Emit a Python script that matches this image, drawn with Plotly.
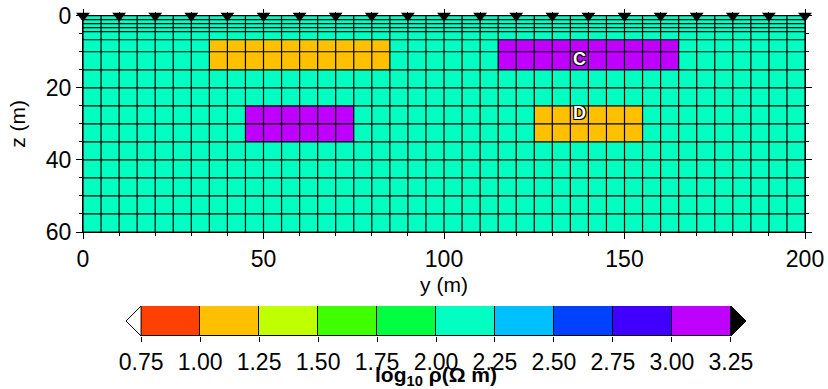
import plotly.graph_objects as go

# ---------------- data ----------------
y_nodes = [0, 5, 10, 15, 20, 25, 30, 35, 40, 45, 50, 55, 60, 65, 70, 75, 80, 85, 90, 95, 100,
           105, 110, 115, 120, 125, 130, 135, 140, 145, 150, 155, 160, 165, 170, 175, 180,
           185, 190, 195, 200]
z_nodes = [0, 1.11, 2.22, 3.33, 4.44, 6.67, 10, 15, 20, 25, 30, 35, 40, 45, 50, 55, 60]

background_log_rho = 2.0
block_y0 = [35, 115, 45, 125]
block_y1 = [85, 165, 75, 155]
block_z0 = [6.67, 6.67, 25, 25]
block_z1 = [15, 15, 35, 35]
block_log_rho = [1.0, 3.0, 3.0, 1.0]

label_text = ["C", "D"]
label_y = [137.5, 137.5]
label_z = [12.5, 27.5]

electrode_y = [0, 10, 20, 30, 40, 50, 60, 70, 80, 90, 100, 110, 120, 130, 140, 150, 160,
               170, 180, 190, 200]
electrode_z = [0] * len(electrode_y)

cbar_edges = [0.75, 1.00, 1.25, 1.50, 1.75, 2.00, 2.25, 2.50, 2.75, 3.00, 3.25]
cbar_colors = ["#FF4000", "#FFC000", "#C0FF00", "#40FF00", "#00FF40",
               "#00FFC0", "#00C0FF", "#0040FF", "#4000FF", "#C000FF"]
under_color = "#FFFFFF"
over_color = "#000000"

x_ticks = [0, 50, 100, 150, 200]
z_ticks = [0, 20, 40, 60]

# ---------------- build model ----------------
ny = len(y_nodes) - 1
nz = len(z_nodes) - 1
model = []
for j in range(nz):
    zc = 0.5 * (z_nodes[j] + z_nodes[j + 1])
    row = []
    for i in range(ny):
        yc = 0.5 * (y_nodes[i] + y_nodes[i + 1])
        v = background_log_rho
        for b in range(len(block_log_rho)):
            if block_y0[b] < yc < block_y1[b] and block_z0[b] < zc < block_z1[b]:
                v = block_log_rho[b]
        row.append(v)
    model.append(row)

nb = len(cbar_colors)
vmin, vmax = cbar_edges[0], cbar_edges[-1]
colorscale = []
for k, c in enumerate(cbar_colors):
    colorscale.append([k / nb, c])
    colorscale.append([(k + 1) / nb, c])

FONT = "Liberation Sans, Arial, sans-serif"
FS = 23

fig = go.Figure()

fig.add_trace(go.Heatmap(
    x=y_nodes, y=z_nodes, z=model, zmin=vmin, zmax=vmax,
    colorscale=colorscale, showscale=False, hoverinfo="skip"))

# mesh lines
mx, mz = [], []
for yv in y_nodes:
    mx += [yv, yv, None]
    mz += [z_nodes[0], z_nodes[-1], None]
for zv in z_nodes:
    mx += [y_nodes[0], y_nodes[-1], None]
    mz += [zv, zv, None]
fig.add_trace(go.Scatter(x=mx, y=mz, mode="lines",
                         line=dict(color="black", width=1.2),
                         hoverinfo="skip", showlegend=False))

# electrodes
fig.add_trace(go.Scatter(x=electrode_y, y=electrode_z, mode="markers",
                         marker=dict(symbol="triangle-down", size=12, color="black"),
                         cliponaxis=False, showlegend=False))

# labels
fig.add_trace(go.Scatter(x=label_y, y=label_z, mode="text", text=label_text,
                         textfont=dict(family=FONT, size=18, color="white",
                                       weight="bold",
                                       shadow="-1px -1px 0 #000, 1px -1px 0 #000, -1px 1px 0 #000, 1px 1px 0 #000"),
                         showlegend=False))

# colorbar as a separate subplot
centers = [0.5 * (cbar_edges[k] + cbar_edges[k + 1]) for k in range(nb)]
widths = [cbar_edges[k + 1] - cbar_edges[k] for k in range(nb)]
fig.add_trace(go.Bar(x=centers, y=[1] * nb, width=widths, base=0,
                     marker=dict(color=cbar_colors, line=dict(color="black", width=1)),
                     xaxis="x2", yaxis="y2", showlegend=False, hoverinfo="skip"))
ext = 0.064
fig.add_trace(go.Scatter(x=[vmin, vmin - ext, vmin, vmin], y=[0, 0.5, 1, 0],
                         mode="lines", fill="toself", fillcolor=under_color,
                         line=dict(color="black", width=1),
                         xaxis="x2", yaxis="y2", showlegend=False, hoverinfo="skip"))
fig.add_trace(go.Scatter(x=[vmax, vmax + ext, vmax, vmax], y=[0, 0.5, 1, 0],
                         mode="lines", fill="toself", fillcolor=over_color,
                         line=dict(color="black", width=1),
                         xaxis="x2", yaxis="y2", showlegend=False, hoverinfo="skip"))

W, H = 828, 389
axis_common = dict(showgrid=False, zeroline=False, showline=True, linecolor="black",
                   linewidth=1, mirror="ticks", ticks="outside", ticklen=6,
                   tickcolor="black", tickwidth=1,
                   tickfont=dict(family=FONT, size=FS, color="black"))

fig.update_layout(
    width=W, height=H, margin=dict(l=0, r=0, t=0, b=0),
    paper_bgcolor="white", plot_bgcolor="white", bargap=0,
    font=dict(family=FONT, color="black"),
    xaxis=dict(domain=[83 / W, 805 / W], range=[0, 200], tickvals=x_ticks,
               minor=dict(dtick=10, ticklen=3, ticks="outside", tickcolor="black"),
               title=dict(text="y (m)", font=dict(family=FONT, size=21), standoff=6),
               anchor="y", automargin=False, **axis_common),
    yaxis=dict(domain=[1 - 232 / H, 1 - 15.7 / H], range=[60, 0], tickvals=z_ticks,
               minor=dict(dtick=5, ticklen=3, ticks="outside", tickcolor="black"),
               title=dict(text="z (m)", font=dict(family=FONT, size=21), standoff=14),
               anchor="x", automargin=False, **axis_common),
    xaxis2=dict(domain=[126 / W, 746 / W], range=[vmin - ext, vmax + ext],
                tickvals=cbar_edges, ticktext=["%.2f" % v for v in cbar_edges],
                ticks="outside", ticklen=5, tickcolor="black", showgrid=False,
                zeroline=False, showline=False, anchor="y2", automargin=False,
                tickfont=dict(family=FONT, size=FS, color="black"),
                title=dict(text="<b>log<sub>10</sub> ρ(Ω m)</b>",
                           font=dict(family=FONT, size=21), standoff=2)),
    yaxis2=dict(domain=[1 - 336 / H, 1 - 306 / H], range=[0, 1], visible=False,
                anchor="x2", fixedrange=True),
)

fig.write_html("out.html")
